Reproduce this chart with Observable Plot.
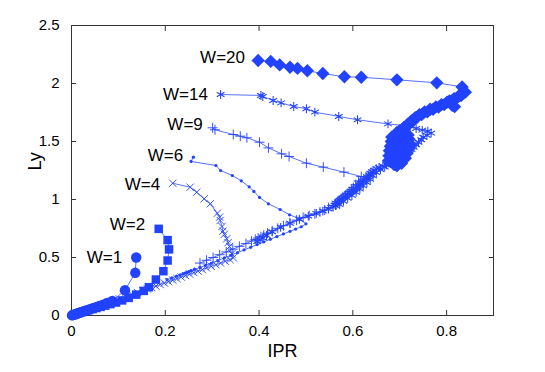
<!DOCTYPE html>
<html><head><meta charset="utf-8">
<script src="https://cdn.jsdelivr.net/npm/d3@7"></script>
<script src="https://cdn.jsdelivr.net/npm/@observablehq/plot@0.6"></script>
<style>body{margin:0;background:#fff} svg{display:block}</style>
</head><body><div id="chart"></div>
<script>
// Axis ticks
const xTicks = [0, 0.2, 0.4, 0.6, 0.8];
const xTickLabels = ["0", "0.2", "0.4", "0.6", "0.8"];
const yTicks = [0, 0.5, 1, 1.5, 2, 2.5];
const yTickLabels = ["0", "0.5", "1", "1.5", "2", "2.5"];

// Series labels and their anchor positions (data units)
const seriesNames = ["W=1", "W=2", "W=4", "W=6", "W=9", "W=14", "W=20"];
const labelIPR = [0.108, 0.157, 0.189, 0.238, 0.280, 0.291, 0.370];
const labelLy  = [0.454, 0.739, 1.086, 1.330, 1.601, 1.859, 2.177];

// W=1
const w1IPR = [0.138,0.136,0.114,0.087,0.076,0.067,0.059,0.052,0.045,0.039,0.033,0.028,0.023,0.019,0.015,0.011,0.008,0.005,0.003,0.001];
const w1Ly  = [0.500,0.368,0.218,0.125,0.108,0.094,0.082,0.072,0.062,0.054,0.046,0.039,0.032,0.026,0.021,0.015,0.011,0.007,0.004,0.001];
// W=2
const w2IPR = [0.186,0.205,0.208,0.205,0.196,0.180,0.165,0.154,0.138,0.122,0.108,0.095,0.083,0.072,0.062,0.053,0.045,0.037,0.030,0.024,0.018,0.013,0.008,0.004];
const w2Ly  = [0.747,0.650,0.570,0.474,0.382,0.310,0.244,0.212,0.180,0.152,0.130,0.112,0.098,0.085,0.074,0.064,0.055,0.046,0.038,0.031,0.024,0.017,0.011,0.005];
// W=4
const w4IPR = [0.216,0.253,0.267,0.283,0.296,0.311,0.316,0.317,0.321,0.323,0.326,0.331,0.334,0.337,0.342,0.345,0.338,0.328,0.318,0.308,0.298,0.288,0.279,0.270,0.261,0.252,0.243,0.234,0.225,0.216,0.207,0.198,0.189,0.180,0.171,0.162,0.152,0.141,0.129,0.116,0.102,0.088,0.074,0.060,0.046,0.032,0.020,0.010];
const w4Ly  = [1.140,1.106,1.063,1.006,0.963,0.882,0.848,0.819,0.767,0.727,0.700,0.661,0.628,0.595,0.532,0.497,0.482,0.468,0.452,0.438,0.424,0.410,0.396,0.383,0.370,0.357,0.344,0.331,0.318,0.305,0.292,0.280,0.267,0.254,0.241,0.228,0.214,0.198,0.181,0.163,0.143,0.123,0.103,0.083,0.064,0.045,0.028,0.014];
// W=6
const w6IPR = [0.260,0.255,0.308,0.318,0.343,0.362,0.379,0.389,0.401,0.420,0.445,0.465,0.487,0.500,0.490,0.478,0.466,0.452,0.438,0.424,0.410,0.396,0.382,0.368,0.354,0.340,0.326,0.312,0.298,0.286,0.274,0.262,0.255,0.250,0.246,0.242,0.238,0.232,0.224,0.214,0.204];
const w6Ly  = [1.365,1.328,1.293,1.250,1.207,1.161,1.109,1.070,1.018,0.963,0.914,0.868,0.833,0.790,0.765,0.745,0.726,0.703,0.680,0.657,0.634,0.611,0.588,0.565,0.542,0.519,0.496,0.473,0.450,0.432,0.414,0.397,0.386,0.378,0.372,0.366,0.360,0.351,0.339,0.324,0.309];
// W=9
const w9IPR = [0.301,0.306,0.345,0.360,0.374,0.401,0.420,0.448,0.464,0.501,0.537,0.581,0.618,0.612,0.606,0.601,0.597,0.592,0.588,0.584,0.579,0.575,0.571,0.567,0.563,0.556,0.548,0.540,0.530,0.519,0.507,0.494,0.480,0.466,0.452,0.440,0.428,0.418,0.410,0.404,0.398,0.392,0.384,0.372,0.358,0.344,0.330,0.316,0.302,0.288,0.274];
const w9Ly  = [1.618,1.601,1.560,1.546,1.532,1.494,1.445,1.394,1.371,1.313,1.279,1.236,1.198,1.160,1.128,1.105,1.085,1.068,1.052,1.038,1.024,1.010,0.996,0.982,0.966,0.948,0.930,0.910,0.893,0.876,0.862,0.846,0.822,0.798,0.774,0.752,0.730,0.710,0.693,0.680,0.668,0.656,0.642,0.620,0.596,0.572,0.548,0.524,0.500,0.476,0.452];
// W=14
const w14IPR = [0.318,0.404,0.408,0.430,0.447,0.474,0.501,0.519,0.570,0.610,0.675,0.722,
  0.735,0.748,0.760,0.767,0.758,0.750,0.746,0.740,0.735,0.730,0.725,0.719,0.714,0.709,0.704,
  0.700,0.690,0.680,0.672,0.664,0.668,0.656,0.650,0.659,0.645,0.641,0.650,0.637,0.634,0.643,0.630,0.628,0.637,0.623,0.621,0.630,0.616,0.614,0.622,0.609,0.606,0.615,0.601,0.598,0.607,0.593,0.590,0.598,0.585,0.581,0.589,0.576,0.572,0.580,0.568,0.566,0.572,0.563,
  0.558,0.548,0.536,0.522,0.505,0.486,0.466,0.446,0.428,0.416,0.408,0.402,0.396];
const w14Ly  = [1.905,1.897,1.888,1.853,1.833,1.802,1.782,1.753,1.716,1.687,1.652,1.632,
  1.612,1.598,1.589,1.572,1.553,1.537,1.515,1.494,1.472,1.451,1.430,1.408,1.385,1.365,1.342,
  1.330,1.318,1.310,1.300,1.290,1.280,1.276,1.266,1.258,1.252,1.240,1.232,1.226,1.212,1.204,1.196,1.182,1.175,1.168,1.154,1.146,1.140,1.126,1.118,1.112,1.098,1.090,1.084,1.070,1.062,1.056,1.043,1.035,1.030,1.018,1.010,1.004,0.992,0.985,0.978,0.964,0.956,0.948,
  0.935,0.918,0.900,0.880,0.857,0.830,0.795,0.760,0.722,0.690,0.668,0.652,0.638];
// W=20
const w20IPR = [0.398,0.425,0.444,0.466,0.482,0.503,0.536,0.582,0.618,0.694,0.779,0.833,0.840,
  0.836,0.831,0.826,0.821,0.816,0.811,0.806,0.817,0.812,0.801,0.795,0.789,0.783,0.777,0.771,0.765,0.759,0.753,0.747,0.742,0.737,0.733,0.729,0.725,0.721,0.717,0.713,0.709,0.705,0.700,0.694,
  0.700,0.718,0.697,0.683,0.704,0.720,0.700,0.682,0.706,0.722,0.698,0.680,0.705,0.720,0.695,0.678,0.702,0.716,0.692,0.677,0.700,0.712,0.690,0.676,0.697,0.704,0.688,0.694];
const w20Ly  = [2.198,2.190,2.160,2.140,2.130,2.110,2.086,2.058,2.054,2.032,2.006,1.970,1.925,
  1.918,1.896,1.894,1.872,1.870,1.850,1.849,1.800,1.812,1.840,1.818,1.818,1.797,1.798,1.777,1.778,1.756,1.756,1.733,1.732,1.708,1.706,1.681,1.678,1.653,1.650,1.625,1.622,1.597,1.594,1.578,
  1.565,1.556,1.548,1.538,1.530,1.520,1.510,1.500,1.492,1.480,1.470,1.460,1.450,1.440,1.430,1.420,1.410,1.400,1.390,1.378,1.368,1.356,1.346,1.334,1.322,1.312,1.302,1.290];

const blue = "#2142ff";
const axisColor = "#333";
const font = "Liberation Sans, Arial, Helvetica, sans-serif";

const toRows = (ipr, ly) => ipr.map((x, i) => ({ipr: x, ly: ly[i]}));
const series = [
  {rows: toRows(w1IPR, w1Ly), symbol: "circle", r: 5.2, filled: true},
  {rows: toRows(w2IPR, w2Ly), symbol: "square", r: 4.8, filled: true},
  {rows: toRows(w4IPR, w4Ly), symbol: "times", r: 3.4, filled: false},
  {rows: toRows(w6IPR, w6Ly), symbol: "circle", r: 1.6, filled: true},
  {rows: toRows(w9IPR, w9Ly), symbol: "plus", r: 3.3, filled: false},
  {rows: toRows(w14IPR, w14Ly), symbol: "asterisk", r: 4.2, filled: false, sw: 1.05},
  {rows: toRows(w20IPR, w20Ly), symbol: "diamond2", r: 6, filled: true}
];
const labels = seriesNames.map((name, i) => ({name, ipr: labelIPR[i], ly: labelLy[i]}));

const marks = [];
for (const s of series) {
  marks.push(Plot.line(s.rows, {x: "ipr", y: "ly", stroke: blue, strokeWidth: 0.75}));
  marks.push(Plot.dot(s.rows, {
    x: "ipr", y: "ly", symbol: s.symbol, r: s.r,
    fill: s.filled ? blue : "none",
    stroke: s.filled ? "none" : blue,
    strokeWidth: s.sw || 0.9
  }));
}

const chart = Plot.plot({
  width: 545,
  height: 372,
  marginLeft: 71,
  marginRight: 52,
  marginTop: 25,
  marginBottom: 57,
  style: {fontFamily: font, fontSize: "15px", color: "black", background: "white"},
  x: {domain: [0, 0.9]},
  y: {domain: [0, 2.5]},
  marks: [
    Plot.frame({stroke: axisColor, strokeWidth: 1}),
    Plot.axisX(xTicks, {anchor: "bottom", tickSize: -5, tickFormat: () => "", label: null, stroke: axisColor}),
    Plot.axisX(xTicks, {anchor: "top", tickSize: -5, tickFormat: () => "", label: null, stroke: axisColor}),
    Plot.axisY(yTicks, {anchor: "left", tickSize: -5, tickFormat: () => "", label: null, stroke: axisColor}),
    Plot.axisY(yTicks, {anchor: "right", tickSize: -5, tickFormat: () => "", label: null, stroke: axisColor}),
    Plot.axisX(xTicks, {anchor: "bottom", tickSize: 0, tickPadding: 9.5, fontSize: 15, fill: "black",
      tickFormat: d => xTickLabels[xTicks.indexOf(d)], label: null}),
    Plot.axisY(yTicks, {anchor: "left", tickSize: 0, tickPadding: 12, fontSize: 15, fill: "black",
      tickFormat: d => yTickLabels[yTicks.indexOf(d)], label: null}),
    Plot.text(["IPR"], {text: d => d, frameAnchor: "bottom", dy: 41, lineAnchor: "bottom", fontSize: 18, fill: "black"}),
    Plot.text(["Ly"], {text: d => d, frameAnchor: "left", dx: -31, rotate: -90, lineAnchor: "bottom", fontSize: 18, fill: "black"}),
    ...marks,
    Plot.text(labels, {x: "ipr", y: "ly", text: "name", textAnchor: "end", lineAnchor: "bottom", fontSize: 17, fill: "black"})
  ]
});
document.getElementById("chart").appendChild(chart);
</script>
</body></html>
